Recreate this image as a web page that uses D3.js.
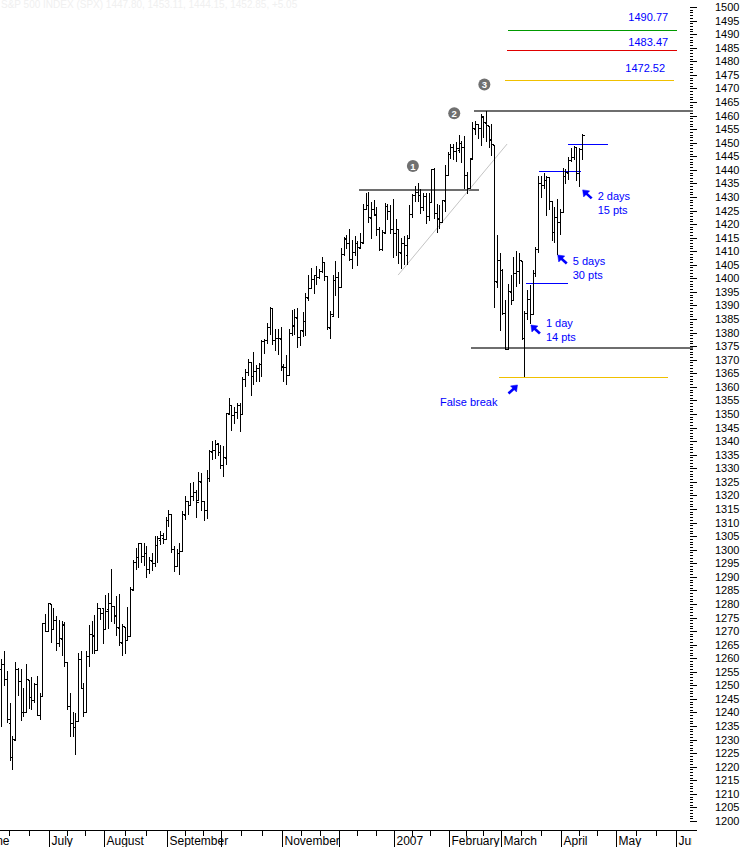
<!DOCTYPE html>
<html>
<head>
<meta charset="utf-8">
<script src="https://cdn.jsdelivr.net/npm/d3@7/dist/d3.min.js"></script>
<style>
html,body{margin:0;padding:0;background:#fff;}
svg{display:block;font-family:"Liberation Sans",Arial,sans-serif;}
</style>
</head>
<body>
<svg id="chart" width="743" height="847"></svg>
<script>
// ---------- calendar (trading days) ----------
const tradingMonths = ["2006-06","2006-07","2006-08","2006-09","2006-10","2006-11","2006-12","2007-01","2007-02","2007-03","2007-04","2007-05","2007-06"];
const tradingDays = [
 [1,2,5,6,7,8,9,12,13,14,15,16,19,20,21,22,23,26,27,28,29,30],
 [3,5,6,7,10,11,12,13,14,17,18,19,20,21,24,25,26,27,28,31],
 [1,2,3,4,7,8,9,10,11,14,15,16,17,18,21,22,23,24,25,28,29,30,31],
 [1,5,6,7,8,11,12,13,14,15,18,19,20,21,22,25,26,27,28,29],
 [2,3,4,5,6,9,10,11,12,13,16,17,18,19,20,23,24,25,26,27,30,31],
 [1,2,3,6,7,8,9,10,13,14,15,16,17,20,21,22,24,27,28,29,30],
 [1,4,5,6,7,8,11,12,13,14,15,18,19,20,21,22,26,27,28,29],
 [3,4,5,8,9,10,11,12,16,17,18,19,22,23,24,25,26,29,30,31],
 [1,2,5,6,7,8,9,12,13,14,15,16,20,21,22,23,26,27,28],
 [1,2,5,6,7,8,9,12,13,14,15,16,19,20,21,22,23,26,27,28,29,30],
 [2,3,4,5,9,10,11,12,13,16,17,18,19,20,23,24,25,26,27,30],
 [1,2,3,4,7,8,9,10,11,14,15,16,17,18,21,22,23,24,25,29,30,31],
 [1,4,5,6,7,8]
];
const monthLabels = ["June","July","August","September","","November","","2007","February","March","April","May","June"];

// ---------- series (S&P 500 daily OHLC) ----------
const openP = [
 1270.05,1285.71,1288.16,1265.23,1263.61,1256.08,1257.93,1252.27,1236.08,1223.66,1230.01,1256.16,1251.54,1240.12,1240.09,1251.92,1245.59,1244.50,1250.55,1238.99,1245.94,1272.86,
 1270.06,1280.05,1270.58,1274.08,1265.46,1267.26,1272.39,1258.58,1242.29,1236.20,1234.48,1236.74,1259.81,1249.12,1240.25,1260.91,1268.87,1268.20,1263.15,1278.53,
 1278.53,1270.73,1278.22,1280.26,1279.31,1275.67,1271.13,1265.72,1271.64,1266.67,1268.19,1285.27,1295.37,1297.48,1302.30,1297.52,1298.73,1292.97,1295.92,1295.09,1301.57,1303.70,1304.25,
 1303.80,1310.94,1313.04,1300.21,1294.02,1298.86,1299.53,1312.74,1318.00,1316.28,1319.85,1321.17,1318.28,1324.89,1318.03,1314.78,1326.35,1336.12,1336.56,1339.15,
 1335.82,1331.32,1333.81,1349.84,1353.22,1349.58,1350.62,1353.28,1349.94,1362.82,1365.61,1369.05,1363.93,1365.95,1366.94,1368.58,1377.02,1377.36,1382.21,1388.89,1377.30,1377.93,
 1377.76,1367.44,1367.31,1364.27,1379.75,1382.50,1385.43,1378.33,1380.58,1384.36,1392.91,1396.53,1399.76,1401.17,1400.43,1402.69,1405.94,1400.95,1381.61,1386.11,1399.47,
 1400.63,1396.67,1409.10,1414.40,1412.86,1407.27,1409.81,1413.00,1411.32,1413.16,1425.48,1427.08,1422.42,1425.51,1423.20,1418.10,1410.75,1416.63,1426.77,1424.71,
 1418.03,1416.60,1418.34,1409.26,1412.84,1408.70,1414.84,1423.82,1430.73,1431.77,1430.59,1426.35,1430.47,1422.95,1427.96,1440.12,1423.90,1422.03,1420.61,1428.65,
 1437.90,1445.94,1448.33,1446.98,1447.41,1449.99,1448.25,1438.00,1433.22,1443.91,1455.15,1456.77,1455.53,1459.60,1457.29,1456.22,1451.04,1449.25,1398.64,
 1406.80,1403.16,1387.11,1374.06,1395.02,1391.88,1401.89,1402.80,1406.23,1377.86,1387.11,1392.28,1386.95,1402.04,1410.92,1435.04,1434.54,1436.11,1437.49,1428.35,1417.17,1422.52,
 1420.83,1424.27,1437.75,1438.94,1443.77,1444.58,1448.23,1438.87,1447.80
];
const highP = [
 1285.71,1290.68,1288.16,1269.88,1272.47,1259.85,1262.58,1255.22,1243.37,1231.46,1258.64,1256.27,1255.93,1249.01,1257.96,1251.92,1253.13,1250.92,1253.37,1247.06,1272.88,1276.30,
 1280.38,1280.05,1278.32,1275.38,1274.06,1273.64,1273.31,1258.58,1247.12,1240.07,1239.86,1261.81,1262.56,1250.96,1262.50,1272.39,1273.89,1275.85,1280.42,1278.66,
 1278.53,1283.42,1283.96,1292.92,1279.31,1282.75,1283.74,1272.55,1271.64,1278.90,1286.23,1296.21,1300.78,1302.30,1302.30,1302.49,1301.50,1297.23,1298.88,1305.02,1305.02,1306.74,1306.11,
 1312.03,1314.67,1313.04,1301.25,1300.14,1302.36,1314.28,1319.92,1318.00,1324.65,1324.87,1322.04,1328.53,1328.19,1318.03,1329.35,1336.60,1340.08,1340.28,1339.15,
 1338.54,1338.31,1350.20,1355.79,1353.22,1352.69,1354.23,1353.97,1363.76,1366.63,1370.20,1369.05,1372.87,1368.09,1368.66,1377.40,1377.78,1383.61,1389.45,1388.89,1381.22,1381.21,
 1381.95,1368.39,1371.68,1381.40,1388.19,1388.61,1388.92,1381.04,1387.61,1394.49,1401.35,1403.76,1401.21,1404.37,1403.49,1407.89,1405.94,1400.95,1387.91,1401.14,1406.30,
 1402.46,1411.23,1415.27,1415.93,1418.27,1414.09,1415.60,1413.78,1416.64,1427.23,1431.63,1431.81,1428.30,1429.05,1426.40,1418.82,1417.91,1427.72,1427.26,1427.00,
 1429.42,1421.84,1418.34,1414.98,1415.61,1415.99,1427.12,1431.23,1433.93,1435.27,1432.96,1431.57,1431.39,1431.33,1440.14,1440.69,1427.27,1426.94,1428.82,1441.61,
 1446.64,1449.33,1449.38,1450.19,1452.99,1450.45,1452.45,1439.11,1444.41,1457.65,1457.97,1456.77,1460.53,1459.60,1461.57,1456.22,1456.95,1449.25,1415.89,
 1409.46,1403.40,1391.86,1397.90,1401.16,1407.93,1410.15,1409.34,1406.23,1388.09,1395.73,1397.51,1403.20,1411.53,1437.77,1437.66,1438.89,1437.65,1437.49,1428.35,1426.24,1429.22,
 1425.49,1440.57,1440.16,1444.88,1448.10,1448.73,1448.39,1448.02,1453.11
];
const lowP = [
 1269.19,1280.22,1264.66,1254.46,1255.77,1235.18,1250.03,1236.43,1222.52,1219.29,1230.01,1246.33,1237.17,1238.87,1240.09,1241.53,1241.43,1243.68,1238.94,1237.59,1245.94,1270.20,
 1270.06,1265.91,1270.58,1263.13,1264.46,1261.19,1257.29,1241.43,1231.47,1231.49,1224.54,1236.74,1249.13,1238.72,1240.25,1257.19,1261.94,1261.92,1263.15,1274.31,
 1265.71,1270.73,1271.25,1273.82,1273.00,1268.37,1264.73,1261.30,1262.08,1266.67,1268.19,1285.27,1292.71,1293.57,1295.51,1294.44,1289.82,1291.40,1292.39,1293.97,1295.29,1302.15,1302.45,
 1303.80,1308.82,1299.28,1292.13,1294.02,1290.93,1299.53,1311.12,1313.25,1316.28,1318.16,1312.17,1318.28,1314.45,1310.94,1311.58,1325.30,1333.54,1333.75,1335.00,
 1330.28,1327.10,1331.48,1349.84,1344.21,1346.55,1348.60,1343.57,1349.94,1360.50,1364.48,1356.87,1360.95,1362.06,1362.10,1363.94,1372.42,1376.00,1379.47,1375.85,1373.46,1372.19,
 1366.26,1362.21,1360.98,1364.27,1379.19,1379.33,1374.66,1375.60,1378.80,1379.07,1392.13,1396.53,1394.55,1397.85,1399.99,1402.26,1399.25,1381.44,1377.83,1386.11,1393.83,
 1385.93,1396.67,1408.78,1411.05,1406.80,1403.67,1408.56,1404.75,1411.05,1413.16,1425.48,1420.65,1414.88,1423.51,1415.90,1410.28,1410.45,1416.63,1422.05,1416.84,
 1407.86,1408.43,1405.75,1403.97,1405.42,1405.32,1414.84,1422.58,1428.62,1428.57,1424.21,1425.19,1420.40,1421.66,1427.96,1422.34,1416.96,1418.46,1420.61,1424.78,
 1437.90,1444.49,1443.85,1443.40,1446.44,1442.81,1433.44,1431.44,1433.22,1443.91,1453.19,1451.57,1449.20,1452.02,1450.51,1448.36,1445.48,1389.42,1396.65,
 1380.87,1386.87,1373.97,1374.06,1390.64,1391.88,1397.30,1398.40,1377.71,1363.98,1385.16,1383.63,1386.95,1400.70,1409.75,1429.88,1433.21,1423.28,1425.54,1414.07,1413.27,1408.90,
 1416.37,1424.27,1435.08,1436.67,1443.28,1443.99,1436.15,1433.91,1444.15
];
const closeP = [
 1285.71,1288.22,1265.29,1263.85,1256.15,1257.93,1252.30,1237.44,1223.69,1230.04,1256.16,1251.54,1240.13,1240.12,1252.20,1245.60,1244.50,1250.56,1239.20,1246.00,1272.87,1270.20,
 1280.19,1270.91,1274.08,1265.48,1267.34,1272.43,1258.60,1242.29,1236.20,1234.49,1236.86,1259.81,1249.13,1240.29,1260.91,1268.88,1268.40,1263.20,1278.55,1276.66,
 1270.92,1277.41,1280.27,1279.36,1275.77,1271.48,1265.95,1271.81,1266.74,1268.21,1285.58,1295.43,1297.48,1302.30,1297.52,1298.82,1292.99,1296.06,1295.09,1301.78,1304.28,1305.37,1303.82,
 1311.01,1313.25,1300.26,1294.02,1298.92,1299.54,1313.00,1318.07,1316.28,1319.66,1321.18,1317.64,1325.18,1318.03,1314.78,1326.37,1336.35,1336.59,1338.88,1335.85,
 1331.32,1334.11,1350.20,1353.22,1349.59,1350.66,1353.42,1349.95,1362.83,1365.62,1369.06,1364.05,1365.80,1366.96,1368.60,1377.02,1377.38,1382.22,1389.08,1377.34,1377.93,1377.94,
 1367.81,1367.34,1364.30,1379.78,1382.84,1385.72,1378.33,1380.90,1384.42,1393.22,1396.57,1399.76,1401.20,1400.50,1402.81,1406.09,1400.95,1381.96,1386.72,1399.48,1400.63,
 1396.71,1409.12,1414.76,1412.90,1407.29,1409.84,1413.04,1411.56,1413.21,1425.49,1427.09,1422.48,1425.55,1423.53,1418.30,1410.76,1416.90,1426.84,1424.73,1418.30,
 1416.60,1418.34,1409.71,1412.84,1412.11,1414.85,1423.82,1430.73,1431.90,1430.62,1426.37,1430.50,1422.95,1427.99,1440.13,1423.90,1422.18,1420.62,1428.82,1438.24,
 1445.94,1448.39,1446.99,1448.00,1450.02,1448.31,1438.06,1433.37,1444.26,1455.30,1456.81,1455.54,1459.68,1457.63,1456.38,1451.19,1449.37,1399.04,1406.82,
 1403.17,1387.17,1374.12,1395.41,1391.97,1401.89,1402.84,1406.60,1377.95,1387.17,1392.28,1386.95,1402.06,1410.94,1435.04,1434.54,1436.11,1437.50,1428.61,1417.23,1422.53,1420.86,
 1424.55,1437.77,1439.37,1443.76,1444.61,1448.39,1438.87,1447.80,1452.85
];

// ---------- axis tick values ----------
const yLabelTicks = [1200,1205,1210,1215,1220,1225,1230,1235,1240,1245,1250,1255,1260,1265,1270,1275,1280,1285,1290,1295,1300,1305,1310,1315,1320,1325,1330,1335,1340,1345,1350,1355,1360,1365,1370,1375,1380,1385,1390,1395,1400,1405,1410,1415,1420,1425,1430,1435,1440,1445,1450,1455,1460,1465,1470,1475,1480,1485,1490,1495,1500];

// ---------- annotations (day index, price) ----------
const grayLevels = [
  {price:1432.6, from:135.6, to:179.4},
  {price:1461.8, from:177.6, to:null},
  {price:1374.4, from:176.5, to:null}
];
const trendLine = {from:[149.9,1401.2], to:[189.7,1449.5]};
const targetLevels = [
  {price:1490.77, label:"1490.77", labelPrice:1494.7, color:"#009a00", from:190.0, to:251.8},
  {price:1483.47, label:"1483.47", labelPrice:1485.5, color:"#e00000", from:189.7, to:251.8},
  {price:1472.52, label:"1472.52", labelPrice:1476.0, color:"#f0c000", from:189.0, to:250.7}
];
const falseBreakLevel = {price:1363.6, from:186.8, to:248.5, color:"#f0c000"};
const blueLevels = [
  {price:1449.4, from:212.1, to:226.6},
  {price:1439.5, from:201.4, to:216.7},
  {price:1398.2, from:196.6, to:211.9}
];
const notes = [
  {tipIdx:217.3, tipPrice:1432.6, dir:"nw", textDy:10, lines:["2 days","15 pts"]},
  {tipIdx:208.2, tipPrice:1408.6, dir:"nw", textDy:10, lines:["5 days","30 pts"]},
  {tipIdx:198.4, tipPrice:1382.8, dir:"nw", textDy:2,  lines:["1 day","14 pts"]},
  {tipIdx:193.5, tipPrice:1360.7, dir:"ne", textDy:21, lines:["False break"]}
];
const waveMarks = [
  {label:"1", idx:155.3, price:1441.4},
  {label:"2", idx:170.4, price:1460.8},
  {label:"3", idx:181.4, price:1471.4}
];

// ---------- build ----------
const svg = d3.select("#chart");
const W = 743, H = 847, plotRight = 690, axisY = 830;

const dayList = [];
tradingMonths.forEach((m, k) => tradingDays[k].forEach(d => dayList.push({m:k, day:d})));
const monthStart = tradingMonths.map((m,k) => dayList.findIndex(o => o.m === k));

const x = d3.scaleLinear().domain([0, 256.5]).range([-12.34, plotRight]);
const y = d3.scaleLinear().domain([1200, 1500]).range([821, 7]);

svg.append("defs").append("clipPath").attr("id","axisClip")
  .append("rect").attr("x",0).attr("y",0).attr("width",plotRight+2).attr("height",H);

// faint title
svg.append("text").attr("x", 1).attr("y", 8).attr("font-size", 10).attr("fill", "#f0f0f0")
  .text("S&P 500 INDEX (SPX) 1447.80, 1453.11, 1444.15, 1452.85, +5.05");

// bottom axis
const xa = svg.append("g").attr("shape-rendering","crispEdges");
xa.append("line").attr("x1",0).attr("x2",plotRight+7).attr("y1",axisY+0.5).attr("y2",axisY+0.5).attr("stroke","#000");
const xLab = svg.append("g").attr("clip-path","url(#axisClip)");
monthStart.forEach((s,k) => {
  const sx = Math.round(x(s)) + 1.5;
  xa.append("line").attr("x1",sx).attr("x2",sx).attr("y1",axisY).attr("y2",H).attr("stroke","#000");
  if (monthLabels[k]) xLab.append("text").attr("x", k === 0 ? sx - 6 : sx + 2).attr("y", 845)
    .attr("font-size", 12).attr("fill","#000").text(monthLabels[k]);
  if (k < monthStart.length - 1) {
    const e = monthStart[k+1];
    [1/3, 2/3].forEach(f => {
      const tx = Math.round(x(s + (e - s) * f)) + 1.5;
      xa.append("line").attr("x1",tx).attr("x2",tx).attr("y1",axisY).attr("y2",axisY+6).attr("stroke","#000");
    });
  }
});

// right axis
const minorTicks = d3.range(1200, 1501, 1);
const ya1 = svg.append("g").attr("transform",`translate(${plotRight},0)`)
  .call(d3.axisRight(y).tickValues(minorTicks).tickSize(3).tickFormat(""));
const ya2 = svg.append("g").attr("transform",`translate(${plotRight},0)`)
  .call(d3.axisRight(y).tickValues(yLabelTicks).tickSize(7).tickPadding(18).tickFormat(d3.format("d")));
[ya1, ya2].forEach(g => {
  g.select(".domain").remove();
  g.selectAll("line").attr("stroke","#000").attr("shape-rendering","crispEdges");
  g.selectAll("text").attr("font-size",11).attr("font-family","Liberation Sans, Arial, sans-serif").attr("fill","#000");
});

// annotation lines under bars
const ann = svg.append("g").attr("shape-rendering","crispEdges");
grayLevels.forEach(l => {
  const yy = Math.round(y(l.price));
  ann.append("line").attr("x1", x(l.from)).attr("x2", l.to === null ? plotRight + 3 : x(l.to))
    .attr("y1", yy).attr("y2", yy).attr("stroke", "#6e6e6e").attr("stroke-width", 2);
});
svg.append("line").attr("x1", x(trendLine.from[0])).attr("y1", y(trendLine.from[1]))
  .attr("x2", x(trendLine.to[0])).attr("y2", y(trendLine.to[1])).attr("stroke", "#c4c4c4").attr("stroke-width", 1);
targetLevels.forEach(l => {
  const yy = Math.round(y(l.price)) - 1.5;
  ann.append("line").attr("x1", x(l.from)).attr("x2", x(l.to)).attr("y1", yy).attr("y2", yy).attr("stroke", l.color);
  svg.append("text").attr("x", x(l.to) - 9).attr("y", y(l.labelPrice)).attr("text-anchor","end")
    .attr("font-size", 11).attr("fill","#0000ff").text(l.label);
});
{
  const yy = Math.round(y(falseBreakLevel.price)) + 0.5;
  ann.append("line").attr("x1", x(falseBreakLevel.from)).attr("x2", x(falseBreakLevel.to)).attr("y1", yy).attr("y2", yy).attr("stroke", falseBreakLevel.color);
}
blueLevels.forEach(l => {
  const yy = Math.round(y(l.price)) + 0.5;
  ann.append("line").attr("x1", x(l.from)).attr("x2", x(l.to)).attr("y1", yy).attr("y2", yy).attr("stroke", "#0000ff");
});

// OHLC bars
const bars = svg.append("g").attr("shape-rendering","crispEdges");
closeP.forEach((c, i) => {
  const bx = Math.round(x(i)) + 0.5;
  const yh = Math.round(y(highP[i])), yl = Math.round(y(lowP[i]));
  const yo = Math.round(y(openP[i])) + 0.5, yc = Math.round(y(c)) + 0.5;
  bars.append("path")
    .attr("d", `M${bx},${yh}V${yl + 1}M${bx - 2},${yo}H${bx}M${bx},${yc}H${bx + 2}`)
    .attr("stroke", "#000").attr("fill","none").attr("stroke-width", 1);
});

// arrows and notes
notes.forEach(n => {
  const tx = x(n.tipIdx), ty = y(n.tipPrice);
  const g = svg.append("g").attr("fill","#0000ff").attr("stroke","#0000ff");
  if (n.dir === "nw") {
    g.append("path").attr("d", `M${tx},${ty}L${tx+7},${ty+1}L${tx+1},${ty+7}Z`).attr("stroke-width",0.5);
    g.append("line").attr("x1", tx+3).attr("y1", ty+3).attr("x2", tx+9).attr("y2", ty+8.5).attr("stroke-width", 2.6);
    n.lines.forEach((t, j) => svg.append("text").attr("x", tx + 15).attr("y", ty + n.textDy + j * 14)
      .attr("font-size", 11).attr("fill","#0000ff").text(t));
  } else {
    g.append("path").attr("d", `M${tx},${ty}L${tx-7},${ty+1}L${tx-1},${ty+7}Z`).attr("stroke-width",0.5);
    g.append("line").attr("x1", tx-3).attr("y1", ty+3).attr("x2", tx-9).attr("y2", ty+8.5).attr("stroke-width", 2.6);
    n.lines.forEach((t, j) => svg.append("text").attr("x", tx - 20).attr("y", ty + n.textDy + j * 14).attr("text-anchor","end")
      .attr("font-size", 11).attr("fill","#0000ff").text(t));
  }
});

// wave markers
waveMarks.forEach(w => {
  const cx = x(w.idx), cy = y(w.price);
  svg.append("circle").attr("cx", cx).attr("cy", cy).attr("r", 6).attr("fill", "#707070");
  svg.append("text").attr("x", cx).attr("y", cy + 3.5).attr("text-anchor","middle")
    .attr("font-size", 9.5).attr("font-weight","bold").attr("fill","#fff").text(w.label);
});
</script>
</body>
</html>
